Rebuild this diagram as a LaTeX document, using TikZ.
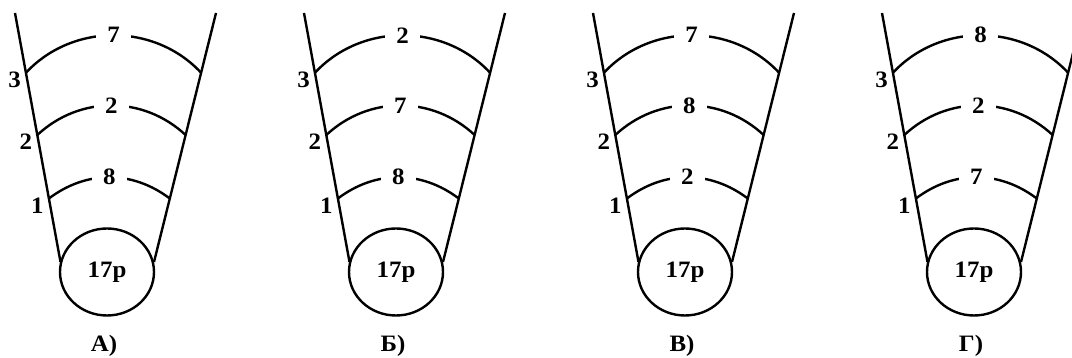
\documentclass[tikz,border=0pt]{standalone}
\usepackage{fontspec}
\setmainfont[FakeStretch=1.06]{Liberation Serif}
\usetikzlibrary{calc,shapes.geometric}
\tikzset{
  shell/.style={line width=2.4pt},
  elec/.style={fill=white, inner xsep=11pt, inner ysep=1pt},
  lvl/.style={anchor=east, inner sep=0pt, xshift=-5pt, yshift=-7pt},
  nucleus/.style={draw, ellipse, line width=2.4pt, minimum width=94pt, minimum height=87pt, inner sep=0pt}
}
\begin{document}
\begin{tikzpicture}[x=1pt, y=1pt, font=\fontsize{23.5pt}{26pt}\selectfont\bfseries]
\useasboundingbox (0,0) rectangle (1072,358);
% four atom sketches: inner / middle / outer shell electrons
\foreach \px/\a/\b/\c/\lab [count=\i] in {107/8/2/7/А), 396/8/7/2/Б), 685/2/8/7/В), 974/7/2/8/Г)}{
\begin{scope}[shift={(\px,86)}]
\node[nucleus] (nuc\i) at (0,0) {17р};
\coordinate (tl\i) at (-92,259);
\coordinate (bl\i) at (-46.5,10);
\coordinate (tr\i) at (109,259);
\coordinate (br\i) at (47,10);
\draw[shell] (tl\i) -- (bl\i);
\draw[shell] (tr\i) -- (br\i);
% shell ends on the side lines
\coordinate (s1l\i) at ($(tl\i)!0.745!(bl\i)$);
\coordinate (s1r\i) at ($(tr\i)!0.745!(br\i)$);
\coordinate (s2l\i) at ($(tl\i)!0.49!(bl\i)$);
\coordinate (s2r\i) at ($(tr\i)!0.49!(br\i)$);
\coordinate (s3l\i) at ($(tl\i)!0.24!(bl\i)$);
\coordinate (s3r\i) at ($(tr\i)!0.24!(br\i)$);
\draw[shell] (s1l\i) to[bend left=37] node[elec] (e1\i) {\a} (s1r\i);
\draw[shell] (s2l\i) to[bend left=43] node[elec] (e2\i) {\b} (s2r\i);
\draw[shell] (s3l\i) to[bend left=47] node[elec] (e3\i) {\c} (s3r\i);
\node[lvl] (n1\i) at (s1l\i) {1};
\node[lvl] (n2\i) at (s2l\i) {2};
\node[lvl] (n3\i) at (s3l\i) {3};
\node (cap\i) at (-3,-74) {\lab};
\end{scope}
}
\end{tikzpicture}
\end{document}
